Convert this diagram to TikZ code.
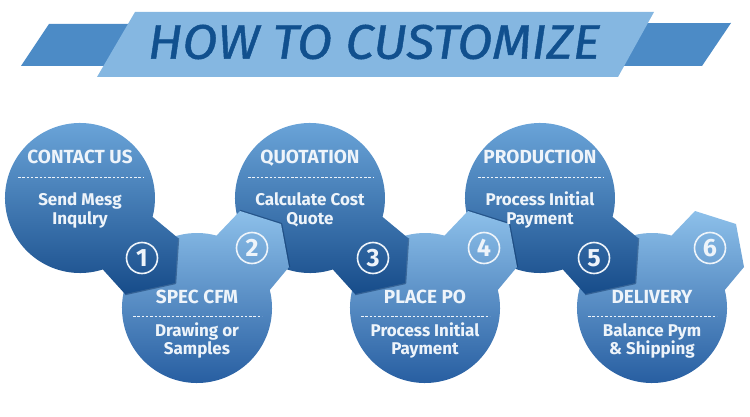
\documentclass[tikz,border=0pt]{standalone}
\usepackage{fontspec}
\setmainfont{Fira Sans}
\newfontfamily\titlefont[FakeBold=0.9]{Fira Sans}
\usepackage{graphicx}
\definecolor{banddark}{HTML}{4C8BC6}
\definecolor{bandlight}{HTML}{85B7E1}
\definecolor{titleblue}{HTML}{11508E}
\definecolor{toptop}{HTML}{6EA8DC}
\definecolor{topmid}{HTML}{3C78BA}
\definecolor{topbot}{HTML}{174C8A}
\definecolor{bottop}{HTML}{8DC0EA}
\definecolor{botmid}{HTML}{4E8DCB}
\definecolor{botbot}{HTML}{235A9E}
\definecolor{shadowc}{HTML}{0E3566}
\definecolor{txt}{HTML}{EEF4FA}
\newcommand\topshape[2]{%
  \begin{scope}[shift={(#1,#2)}]
    \draw[shadowline] (98,40) -- (95,85) -- (45,96);
    \shade[topfill] (72.3:75) arc[start angle=72.3,end angle=374.6,radius=75]
      -- (98,40) -- (95,85) -- (45,96) -- cycle;
  \end{scope}}
\newcommand\botshape[3]{%
  \begin{scope}[shift={(#1,#2)}]
    \draw[#3] (43,-97) -- (84,-84) -- (92,-41);
    \shade[botfill] (-13.9:75) arc[start angle=-13.9,end angle=285.1,radius=75]
      -- (43,-97) -- (84,-84) -- (92,-41) -- cycle;
  \end{scope}}
\newcommand\toptext[6]{%
  \draw[sepline] (#1-62,#2-21) -- (#1+63,#2-21);
  \node[headtext] (#3h) at (#1,#2-34) {#4};
  \node[subtext] (#3a) at (#1,#2+7) {#5};
  \node[subtext] (#3b) at (#1,#2+26) {#6};}
\newcommand\bottext[6]{%
  \draw[sepline] (#1-64,#2+8) -- (#1+65,#2+8);
  \node[headtext] (#3h) at (#1,#2-5) {#4};
  \node[subtext] (#3a) at (#1,#2+28) {#5};
  \node[subtext] (#3b) at (#1,#2+46) {#6};}
\begin{document}
\begin{tikzpicture}[x=1pt,y=-1pt,
  shadowline/.style={draw=shadowc,opacity=0.5,line width=2.5pt,line join=round},
  noshadow/.style={draw=none},
  topfill/.style={top color=toptop,middle color=topmid,bottom color=topbot},
  botfill/.style={top color=bottop,middle color=botmid,bottom color=botbot},
  sepline/.style={draw=txt,line width=0.6pt,dash pattern=on 2.5pt off 1.8pt},
  headtext/.style={anchor=base,inner sep=0,text=txt,font=\bfseries\fontsize{19}{19}\selectfont},
  subtext/.style={anchor=base,inner sep=0,text=txt,font=\bfseries\fontsize{17}{17}\selectfont},
  numc/.style={circle,draw=txt,line width=1.6pt,minimum size=31pt,inner sep=0,text=txt,
    font=\bfseries\fontsize{25}{25}\selectfont},
  titletext/.style={inner sep=0,text=titleblue}]
\useasboundingbox (0,0) rectangle (750,417);
% banner
\fill[banddark] (21,66) -- (49,24) -- (731,23) -- (702,66) -- cycle;
\fill[bandlight] (135,12) -- (654,12) -- (618,77) -- (97,77) -- cycle;
\node[titletext] (title) at (374,42) {\resizebox{452pt}{34pt}{\titlefont\itshape HOW TO CUSTOMIZE}};
% shapes, back to front
\botshape{652}{308}{noshadow}
\topshape{540}{198}
\botshape{425}{308}{shadowline}
\topshape{310}{198}
\botshape{197}{308}{shadowline}
\topshape{80}{198}
% texts
\toptext{80}{198}{s1}{CONTACT US}{Send Mesg}{Inqulry}
\bottext{197}{308}{s2}{SPEC CFM}{Drawing or}{Samples}
\toptext{310}{198}{s3}{QUOTATION}{Calculate Cost}{Quote}
\bottext{425}{308}{s4}{PLACE PO}{Process Initial}{Payment}
\toptext{540}{198}{s5}{PRODUCTION}{Process Initial}{Payment}
\bottext{652}{308}{s6}{DELIVERY}{Balance Pym}{\& Shipping}
% numbers
\node[numc] (n1) at (142,258) {1};
\node[numc] (n2) at (252,248) {2};
\node[numc] (n3) at (373,258) {3};
\node[numc] (n4) at (484,248) {4};
\node[numc] (n5) at (594,258) {5};
\node[numc] (n6) at (710,248) {6};
\end{tikzpicture}
\end{document}
